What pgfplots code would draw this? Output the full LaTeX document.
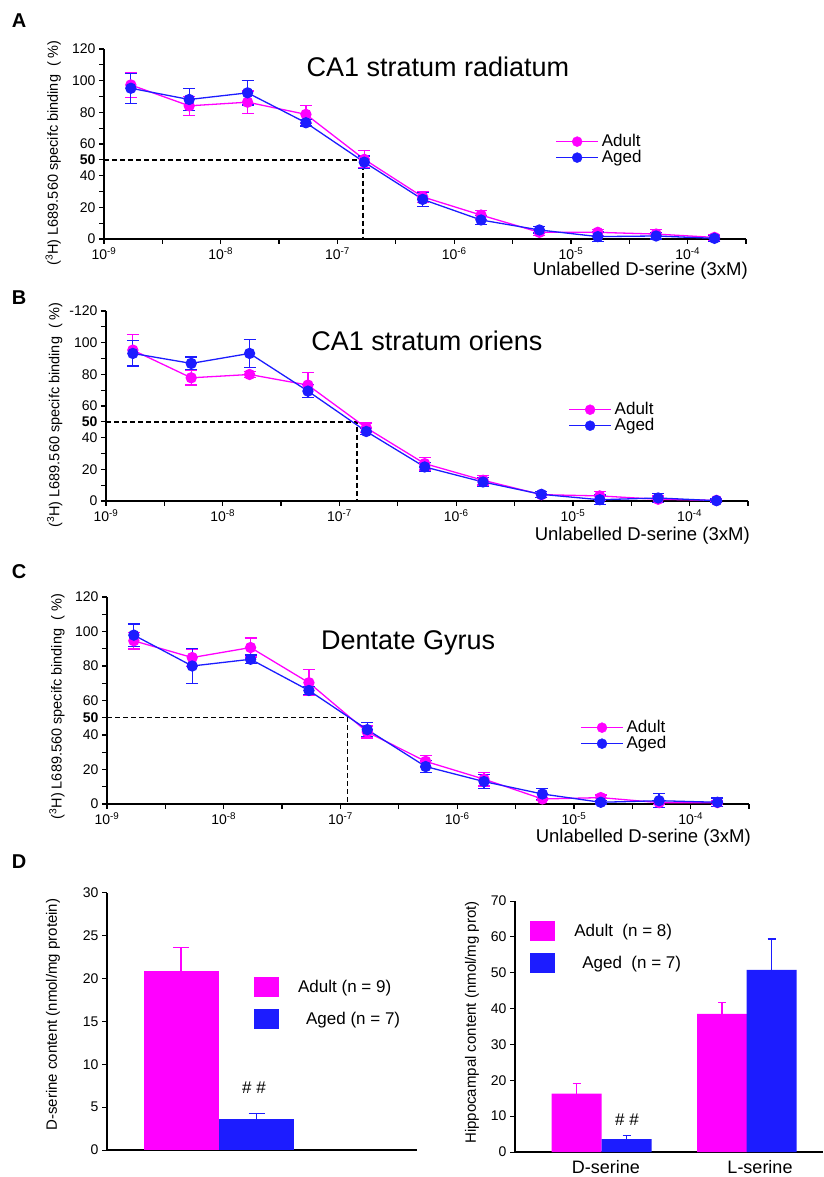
\documentclass[border=0pt]{standalone}
\usepackage{fontspec}
\setmainfont{Liberation Sans}
\usepackage{pgfplots}
\pgfplotsset{compat=1.18}
\usepackage{pgfplotstable}

\definecolor{adult}{RGB}{255,0,255}
\definecolor{aged}{RGB}{28,28,255}
\newcommand{\fsz}[1]{\fontsize{#1}{#1}\selectfont}

% log10 concentration (M), specific binding (%), error
\pgfplotstableread{
x y e
-8.77 97.3 8
-8.27 84.1 6
-7.77 86.4 7
-7.27 78.7 5.6
-6.77 50.3 5.5
-6.27 26.6 3.5
-5.77 15.1 3
-5.27 4.2 2
-4.77 4.2 2
-4.27 3.1 3
-3.77 1.0 2
}\radAdult
\pgfplotstableread{
x y e
-8.77 95.2 9.5
-8.27 88.1 7
-7.77 92.3 7.7
-7.27 73.4 2
-6.77 48.5 3.9
-6.27 25.0 4.5
-5.77 12.0 3
-5.27 5.7 2
-4.77 1.5 3
-4.27 1.9 2
-3.77 0.4 2
}\radAged
\pgfplotstableread{
x y e
-8.77 95.3 10
-8.27 77.8 4.5
-7.77 79.9 2
-7.27 73.2 8
-6.77 46.2 3
-6.27 23.6 4
-5.77 13.1 3
-5.27 4.0 2
-4.77 3.2 3
-4.27 1.1 2
-3.77 0.4 1
}\oriAdult
\pgfplotstableread{
x y e
-8.77 93.2 8
-8.27 86.9 4
-7.77 93.2 9
-7.27 69.4 4
-6.77 43.9 2
-6.27 21.5 3
-5.77 12.0 3
-5.27 4.2 2
-4.77 0.8 3
-4.27 1.9 3
-3.77 0.2 1
}\oriAged
\pgfplotstableread{
x y e
-8.77 94.6 4.7
-8.27 84.9 5
-7.77 90.7 5.5
-7.27 70.3 7.5
-6.77 41.7 3.5
-6.27 24.7 3.5
-5.77 14.4 4
-5.27 2.9 1
-4.77 3.7 1.5
-4.27 0.8 1
-3.77 0.8 1
}\dgAdult
\pgfplotstableread{
x y e
-8.77 97.9 6.4
-8.27 80.0 10
-7.77 83.9 2.5
-7.27 65.8 2.5
-6.77 43.1 4
-6.27 21.7 3.5
-5.77 13.0 4
-5.27 5.8 3
-4.77 1.0 1
-4.27 1.9 4
-3.77 1.0 2.5
}\dgAged

\pgfplotsset{
  bindaxis/.style={
    scale only axis, width=642pt,
    xmin=-9, xmax=-3.5, ymin=0, ymax=120,
    axis lines=left, axis line style={-, line width=1.6pt},
    tick align=outside, major tick length=5pt, minor tick length=5pt,
    tick style={black, line width=1.2pt},
    xtick={-9,-8,-7,-6,-5,-4},
    xticklabels={10\textsuperscript{-9},10\textsuperscript{-8},10\textsuperscript{-7},
      10\textsuperscript{-6},10\textsuperscript{-5},10\textsuperscript{-4}},
    minor xtick={-8.5,-7.5,-6.5,-5.5,-4.5,-3.5},
    ytick={0,20,40,50,60,80,100,120},
    minor ytick={10,30,70,90,110},
    tick label style={font=\fsz{14}},
    xlabel={Unlabelled D-serine (3xM)},
    ylabel={(\textsuperscript{3}H) L689.560 specifc binding\ \ (\ \%)},
    xlabel style={font=\fsz{18.5}, at={(axis description cs:1.003,0)}, anchor=north east, inner sep=0pt},
    ylabel style={font=\fsz{14.5}, anchor=center, inner sep=0pt},
    title style={font=\fsz{27}, anchor=center, yshift=-6pt},
    legend cell align=left,
    legend style={draw=none, fill=none, anchor=north west, font=\fsz{17},
      inner sep=0pt, row sep=1pt, column sep=3pt,
      nodes={inner sep=0pt, text height=12pt, text depth=3pt}},
  },
  baraxis/.style={
    scale only axis, ymin=0,
    axis lines=left, axis line style={-, line width=1.3pt},
    tick align=outside, major tick length=5pt,
    tick style={black, line width=1pt},
    ybar, bar shift=0pt,
    tick label style={font=\fsz{14}},
    ylabel style={font=\fsz{15}, anchor=center, inner sep=0pt},
    legend cell align=left,
    legend image code/.code={\fill[##1] (0pt,-10pt) rectangle (25pt,10pt);},
    legend style={draw=none, fill=none, anchor=north west, font=\fsz{17},
      inner sep=0pt, row sep=12pt, column sep=19pt, nodes={inner sep=0pt}},
  },
}

\begin{document}
\begin{tikzpicture}
\path[use as bounding box] (0pt,0pt) rectangle (823pt,1177pt);

\node[font=\fsz{20}\bfseries] at (19pt,1156pt) {A};
\node[font=\fsz{20}\bfseries] at (19pt,879pt) {B};
\node[font=\fsz{20}\bfseries] at (19pt,605pt) {C};
\node[font=\fsz{20}\bfseries] at (19pt,315pt) {D};

% A
\begin{axis}[bindaxis, at={(104pt,938pt)}, anchor=south west, height=190pt,
  yticklabels={0,20,40,\textbf{50},60,80,100,120},
  title={CA1 stratum radiatum},
  title style={at={(axis description cs:0.52,0.905)}},
  xlabel style={yshift=-23pt},
  ylabel style={at={(axis description cs:-0.079,0.453)}},
  legend style={at={(0.703,0.553)}}, clip=false]
\addplot[black, no marks, line width=1.5pt, dash pattern=on 5pt off 3pt, forget plot] coordinates {(-9,50) (-6.78,50) (-6.78,0)};
\addplot[color=adult, line width=1.3pt, mark=*, mark size=5pt, forget plot,
  error bars/.cd, y dir=both, y explicit, error bar style={line width=1.3pt, draw=adult},
  error mark options={rotate=90, mark size=6pt, line width=1.3pt, draw=adult}] table[x=x, y=y, y error=e] {\radAdult};
\addplot[color=aged, line width=1.3pt, mark=*, mark size=5pt, forget plot,
  error bars/.cd, y dir=both, y explicit, error bar style={line width=1.3pt, draw=aged},
  error mark options={rotate=90, mark size=6pt, line width=1.3pt, draw=aged}] table[x=x, y=y, y error=e] {\radAged};
\addlegendimage{legend image code/.code={\draw[draw=adult, line width=1.3pt] (0pt,0pt) -- (42pt,0pt); \fill[adult] (21pt,0pt) circle[radius=5pt];}}
\addlegendimage{legend image code/.code={\draw[draw=aged, line width=1.3pt] (0pt,0pt) -- (42pt,0pt); \fill[aged] (21pt,0pt) circle[radius=5pt];}}
\legend{Adult, Aged}
\end{axis}

% B
\begin{axis}[bindaxis, at={(106pt,676pt)}, anchor=south west, height=190pt,
  yticklabels={0,20,40,\textbf{50},60,80,100,-120},
  title={CA1 stratum oriens},
  title style={at={(axis description cs:0.5,0.842)}},
  xlabel style={yshift=-26pt},
  ylabel style={at={(axis description cs:-0.08,0.453)}},
  legend style={at={(0.72,0.521)}}, clip=false]
\addplot[black, no marks, line width=1.5pt, dash pattern=on 5pt off 3pt, forget plot] coordinates {(-9,50) (-6.85,50) (-6.85,0)};
\addplot[color=adult, line width=1.3pt, mark=*, mark size=5pt, forget plot,
  error bars/.cd, y dir=both, y explicit, error bar style={line width=1.3pt, draw=adult},
  error mark options={rotate=90, mark size=6pt, line width=1.3pt, draw=adult}] table[x=x, y=y, y error=e] {\oriAdult};
\addplot[color=aged, line width=1.3pt, mark=*, mark size=5pt, forget plot,
  error bars/.cd, y dir=both, y explicit, error bar style={line width=1.3pt, draw=aged},
  error mark options={rotate=90, mark size=6pt, line width=1.3pt, draw=aged}] table[x=x, y=y, y error=e] {\oriAged};
\addlegendimage{legend image code/.code={\draw[draw=adult, line width=1.3pt] (0pt,0pt) -- (42pt,0pt); \fill[adult] (21pt,0pt) circle[radius=5pt];}}
\addlegendimage{legend image code/.code={\draw[draw=aged, line width=1.3pt] (0pt,0pt) -- (42pt,0pt); \fill[aged] (21pt,0pt) circle[radius=5pt];}}
\legend{Adult, Aged}
\end{axis}

% C
\begin{axis}[bindaxis, at={(107pt,373pt)}, anchor=south west, height=207pt,
  yticklabels={0,20,40,\textbf{50},60,80,100,120},
  title={Dentate Gyrus},
  title style={at={(axis description cs:0.469,0.778)}},
  xlabel style={yshift=-25pt},
  ylabel style={at={(axis description cs:-0.078,0.47)}},
  legend style={at={(0.737,0.406)}}, clip=false]
\addplot[black, no marks, line width=1.5pt, dash pattern=on 5pt off 3pt, forget plot] coordinates {(-9,50) (-6.94,50) (-6.94,0)};
\addplot[color=adult, line width=1.3pt, mark=*, mark size=5pt, forget plot,
  error bars/.cd, y dir=both, y explicit, error bar style={line width=1.3pt, draw=adult},
  error mark options={rotate=90, mark size=6pt, line width=1.3pt, draw=adult}] table[x=x, y=y, y error=e] {\dgAdult};
\addplot[color=aged, line width=1.3pt, mark=*, mark size=5pt, forget plot,
  error bars/.cd, y dir=both, y explicit, error bar style={line width=1.3pt, draw=aged},
  error mark options={rotate=90, mark size=6pt, line width=1.3pt, draw=aged}] table[x=x, y=y, y error=e] {\dgAged};
\addlegendimage{legend image code/.code={\draw[draw=adult, line width=1.3pt] (0pt,0pt) -- (42pt,0pt); \fill[adult] (21pt,0pt) circle[radius=5pt];}}
\addlegendimage{legend image code/.code={\draw[draw=aged, line width=1.3pt] (0pt,0pt) -- (42pt,0pt); \fill[aged] (21pt,0pt) circle[radius=5pt];}}
\legend{Adult, Aged}
\end{axis}

% D left
\begin{axis}[baraxis, at={(107pt,27pt)}, anchor=south west,
  width=310pt, height=257pt, xmin=0, xmax=310, ymax=30, bar width=75,
  xtick=\empty, ytick={0,5,10,15,20,25,30}, yticklabels={0,5,10,15,20,25,30},
  ylabel={D-serine content (nmol/mg protein)},
  ylabel style={at={(axis description cs:-0.174,0.527)}},
  legend style={at={(0.474,0.673)}}, clip=false]
\addplot[fill=adult, draw=none, error bars/.cd, y dir=plus, y explicit,
  error bar style={line width=1.1pt, draw=adult},
  error mark options={rotate=90, mark size=8pt, line width=1.1pt, draw=adult}]
  coordinates {(74,20.9) +- (0,2.7)};
\addplot[fill=aged, draw=none, error bars/.cd, y dir=plus, y explicit,
  error bar style={line width=1.1pt, draw=aged},
  error mark options={rotate=90, mark size=8pt, line width=1.1pt, draw=aged}]
  coordinates {(149.5,3.6) +- (0,0.7)};
\legend{Adult (n = 9), \hspace{8pt}Aged (n = 7)}
\node[font=\fsz{17}] at (axis cs:147,7.24) {\# \#};
\end{axis}

% D right
\begin{axis}[baraxis, at={(515pt,25pt)}, anchor=south west,
  width=308pt, height=251pt, xmin=0, xmax=308, ymax=70, bar width=50,
  xtick={91,245}, xticklabels={D-serine,L-serine},
  xtick style={draw=none}, xticklabel style={font=\fsz{18}},
  ytick={0,10,20,30,40,50,60,70}, yticklabels={0,10,20,30,40,50,60,70},
  ylabel={Hippocampal content (nmol/mg prot)},
  ylabel style={at={(axis description cs:-0.14,0.516)}},
  legend style={at={(0.049,0.92)}}, clip=false]
\addplot[fill=adult, draw=none, error bars/.cd, y dir=plus, y explicit,
  error bar style={line width=1.1pt, draw=adult},
  error mark options={rotate=90, mark size=4pt, line width=1.1pt, draw=adult}]
  coordinates {(61.5,16.3) +- (0,2.7) (207,38.5) +- (0,3.1)};
\addplot[fill=aged, draw=none, error bars/.cd, y dir=plus, y explicit,
  error bar style={line width=1.1pt, draw=aged},
  error mark options={rotate=90, mark size=4pt, line width=1.1pt, draw=aged}]
  coordinates {(111.5,3.6) +- (0,0.9) (256.5,50.8) +- (0,8.6)};
\legend{Adult\ \ (n = 8), \hspace{8pt}Aged\ \ (n = 7)}
\node[font=\fsz{17}] at (axis cs:112,8.9) {\# \#};
\end{axis}
\end{tikzpicture}
\end{document}
